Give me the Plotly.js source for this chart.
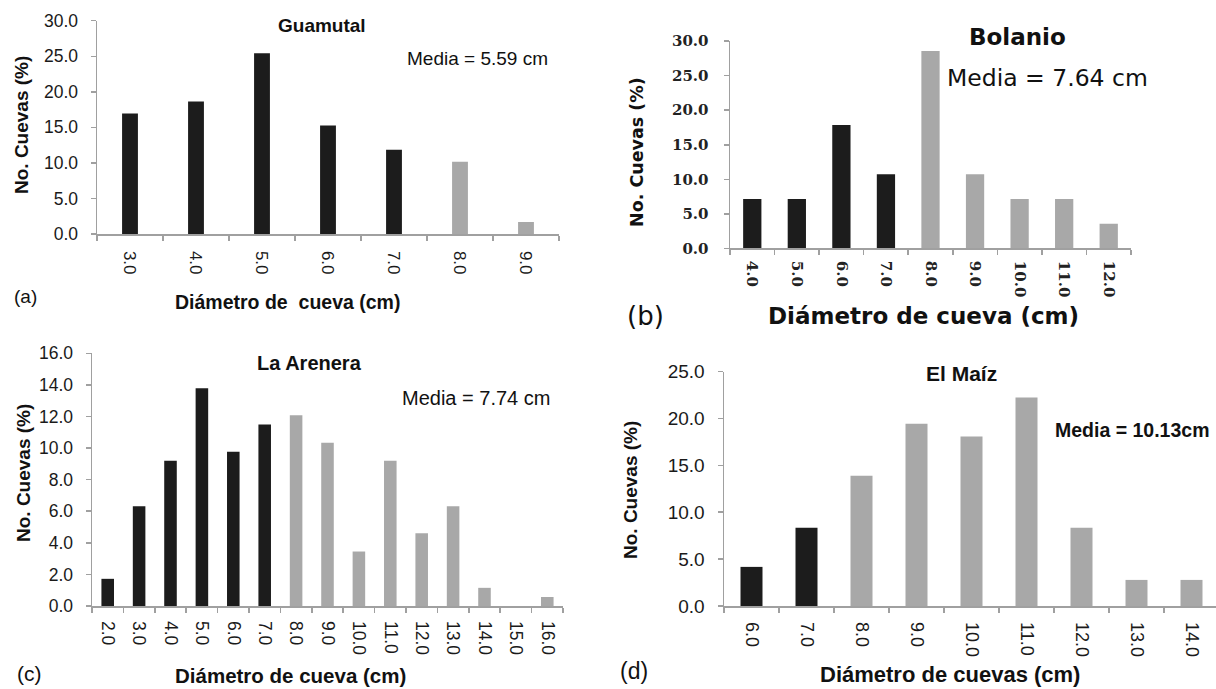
<!DOCTYPE html>
<html>
<head>
<meta charset="utf-8">
<script src="https://cdn.plot.ly/plotly-3.0.1.min.js"></script>
<style>
  html, body { margin: 0; padding: 0; background: #ffffff; }
  #chart { width: 1216px; height: 689px; }
</style>
</head>
<body>
<div id="chart"></div>
<script>
// ---------------- DATA ----------------
const guamutalDiam = ["3.0", "4.0", "5.0", "6.0", "7.0", "8.0", "9.0"];
const guamutalPct  = [16.95, 18.64, 25.42, 15.25, 11.86, 10.17, 1.69];

const bolanioDiam = ["4.0", "5.0", "6.0", "7.0", "8.0", "9.0", "10.0", "11.0", "12.0"];
const bolanioPct  = [7.14, 7.14, 17.86, 10.71, 28.57, 10.71, 7.14, 7.14, 3.57];

const arenaDiam = ["2.0", "3.0", "4.0", "5.0", "6.0", "7.0", "8.0", "9.0", "10.0", "11.0", "12.0", "13.0", "14.0", "15.0", "16.0"];
const arenaPct  = [1.72, 6.32, 9.20, 13.79, 9.77, 11.49, 12.07, 10.34, 3.45, 9.20, 4.60, 6.32, 1.15, 0.0, 0.57];

const maizDiam = ["6.0", "7.0", "8.0", "9.0", "10.0", "11.0", "12.0", "13.0", "14.0"];
const maizPct  = [4.17, 8.33, 13.89, 19.44, 18.06, 22.22, 8.33, 2.78, 2.78];

const panelTitles = ["Guamutal", "Bolanio", "La Arenera", "El Maíz"];
const meanLabels  = ["Media = 5.59 cm", "Media = 7.64 cm", "Media = 7.74 cm", "Media = 10.13cm"];
const panelTags   = ["(a)", "(b)", "(c)", "(d)"];
const xTitles     = ["Diámetro de  cueva (cm)", "Diámetro de cueva (cm)", "Diámetro de cueva (cm)", "Diámetro de cuevas (cm)"];
const yTitle      = "No. Cuevas (%)";

// ---------------- STYLE ----------------
const W = 1216, H = 689;
const px = x => x / W;
const py = y => 1 - y / H;
const DARK = "#1c1c1c", LIGHT = "#a8a8a8";
const AXIS = "#a0a0a0";
const SANS = "Liberation Sans, Arial, sans-serif";
const WIDE = "DejaVu Sans, Verdana, sans-serif";
const SERIF = "DejaVu Serif, Cambria, serif";
const colorFor = cats => cats.map(c => parseFloat(c) < 8 ? DARK : LIGHT);

function bar(cats, vals, xa, ya, w) {
  return {
    type: "bar", x: cats, y: vals, xaxis: xa, yaxis: ya,
    width: w,
    marker: { color: colorFor(cats), line: { width: 0 } },
    hoverinfo: "x+y", showlegend: false
  };
}

const data = [
  bar(guamutalDiam, guamutalPct, "x", "y", 0.24),
  bar(bolanioDiam, bolanioPct, "x2", "y2", 0.41),
  bar(arenaDiam, arenaPct, "x3", "y3", 0.40),
  bar(maizDiam, maizPct, "x4", "y4", 0.40)
];

function xAxis(dom, anchor, n, tickFont, standoff, rangeEnd) {
  return {
    domain: dom, anchor: anchor, type: "category",
    range: [-0.5, rangeEnd !== undefined ? rangeEnd : n - 0.5],
    showline: true, linecolor: AXIS, linewidth: 1.5,
    ticks: "outside", tickson: "boundaries", ticklen: 5, tickcolor: AXIS, tickwidth: 1.5,
    tickangle: 90, tickfont: tickFont, ticklabelstandoff: standoff,
    showgrid: false, zeroline: false, fixedrange: true
  };
}
function yAxis(dom, anchor, max, dtick, tickFont, standoff) {
  return {
    domain: dom, anchor: anchor, range: [0, max], dtick: dtick, tickformat: ".1f",
    showline: true, linecolor: AXIS, linewidth: 1.5,
    ticks: "outside", ticklen: 5, tickcolor: AXIS, tickwidth: 1.5,
    tickfont: tickFont, ticklabelstandoff: standoff,
    showgrid: false, zeroline: false, fixedrange: true
  };
}

const sansTick = size => ({ family: SANS, size: size, color: "#1a1a1a" });
const serifTick = { family: SERIF, size: 15, color: "#222", weight: "bold" };

const layout = {
  width: W, height: H,
  margin: { l: 0, r: 0, t: 0, b: 0 },
  paper_bgcolor: "#ffffff", plot_bgcolor: "#ffffff",
  showlegend: false,
  xaxis:  xAxis([px(97), px(559)], "y", guamutalDiam.length, sansTick(17), 12),
  yaxis:  yAxis([py(234), py(20.7)], "x", 30, 5, sansTick(17.5), 9),
  xaxis2: xAxis([px(730), px(1131)], "y2", bolanioDiam.length, serifTick, 8),
  yaxis2: yAxis([py(248.3), py(41.2)], "x2", 30, 5, serifTick, 12),
  xaxis3: xAxis([px(92), px(563)], "y3", arenaDiam.length, sansTick(17.5), 10),
  yaxis3: yAxis([py(606), py(353.3)], "x3", 16, 2, sansTick(17.5), 9),
  xaxis4: xAxis([px(724), 1], "y4", maizDiam.length, sansTick(18), 11, maizDiam.length - 0.5 - 3 / 55),
  yaxis4: yAxis([py(606), py(371.5)], "x4", 25, 5, sansTick(19), 9),
  annotations: []
};

function note(text, x, y, font, opts) {
  layout.annotations.push(Object.assign({
    text: text, xref: "paper", yref: "paper", x: px(x), y: py(y),
    xanchor: "center", yanchor: "middle", showarrow: false, font: font
  }, opts || {}));
}

const bold = (fam, size) => ({ family: fam, size: size, color: "#111", weight: "bold" });
const reg = (fam, size) => ({ family: fam, size: size, color: "#111" });

// Panel (a)
note(panelTitles[0], 322, 25, bold(SANS, 19));
note(meanLabels[0], 405, 58, reg(SANS, 19), { xanchor: "left" });
note(panelTags[0], 12, 296, reg(SANS, 19), { xanchor: "left" });
note(xTitles[0], 287, 302, bold(SANS, 19.5));
note(yTitle, 21, 125, bold(SANS, 19), { textangle: -90 });

// Panel (b)
note(panelTitles[1], 1017, 37, bold(WIDE, 23));
note(meanLabels[1], 945, 78, reg(WIDE, 23.5), { xanchor: "left" });
note(panelTags[1], 625, 316, reg(WIDE, 26), { xanchor: "left" });
note(xTitles[1], 924, 316, bold(WIDE, 23));
note(yTitle, 637, 152, bold(WIDE, 17.5), { textangle: -90 });

// Panel (c)
note(panelTitles[2], 310, 363, bold(SANS, 20));
note(meanLabels[2], 400, 398, reg(SANS, 20), { xanchor: "left" });
note(panelTags[2], 15, 673, reg(SANS, 21), { xanchor: "left" });
note(xTitles[2], 290, 675, bold(SANS, 20.5));
note(yTitle, 23, 473, bold(SANS, 19), { textangle: -90 });

// Panel (d)
note(panelTitles[3], 961, 373, bold(SANS, 21));
note(meanLabels[3], 1053, 430, bold(SANS, 19.5), { xanchor: "left" });
note(panelTags[3], 618, 671, reg(SANS, 23), { xanchor: "left" });
note(xTitles[3], 950, 674, bold(SANS, 22));
note(yTitle, 630, 490, bold(SANS, 19), { textangle: -90 });

Plotly.newPlot("chart", data, layout, { displayModeBar: false, staticPlot: true });
</script>
</body>
</html>
